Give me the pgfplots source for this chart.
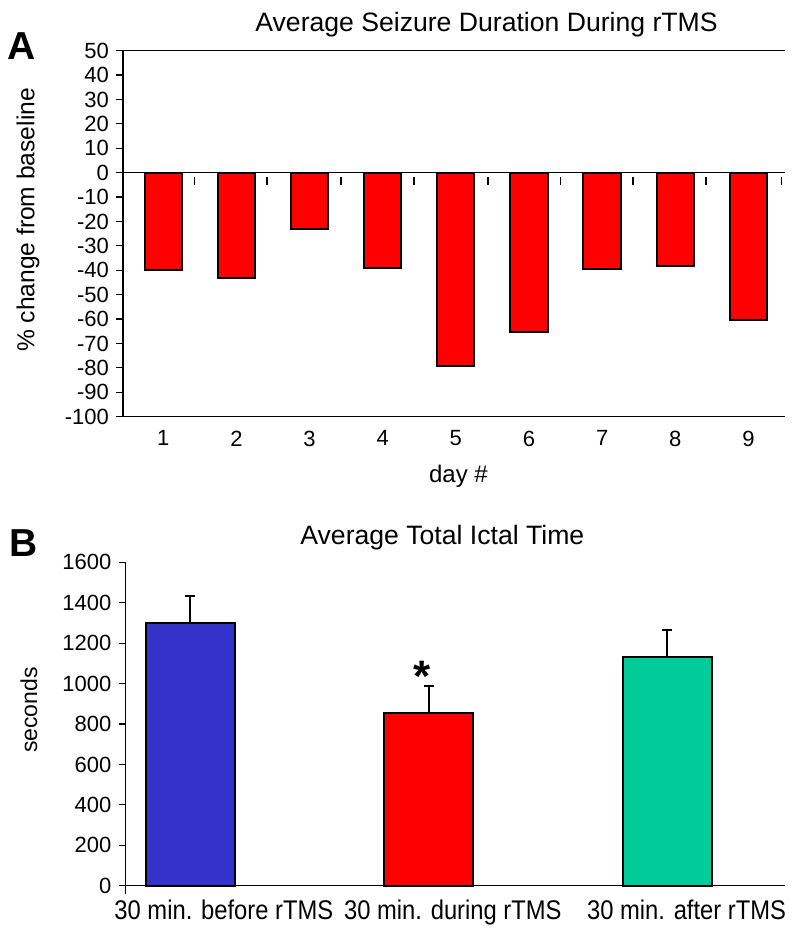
\documentclass[border=0pt]{standalone}
\usepackage{fontspec}
\setmainfont{Liberation Sans}
\newfontfamily\narrowfont[FakeStretch=0.88]{Liberation Sans}
\usepackage{pgfplots}
\pgfplotsset{compat=1.18}
\definecolor{barred}{RGB}{255,0,0}
\definecolor{barblue}{RGB}{51,51,204}
\definecolor{bargreen}{RGB}{0,204,153}
\begin{document}
\begin{tikzpicture}
\path[use as bounding box] (0,0) rectangle (400pt,-470pt);

% Panel A
\begin{axis}[
 at={(61.5pt,-208.35pt)}, anchor=south west,
 scale only axis, width=331pt, height=183pt,
 xmin=0.45, xmax=9.5, ymin=-100, ymax=50,
 axis y line*=left, axis x line*=bottom,
 ytick={-100,-90,...,50},
 xtick={1,...,9},
 tick align=outside,
 major tick length=3.5pt,
 every major x tick/.append style={draw=none},
 every tick/.append style={black, line width=0.6pt},
 axis line style={line width=0.7pt},
 tick label style={font=\fontsize{11}{12}\selectfont},
 /pgf/number format/assume math mode=true,
 clip=false,
]
\addplot[ybar, bar width=0.51, bar shift=0pt, fill=barred, draw=black, line width=1pt]
 coordinates {(1,-40) (2,-43.3) (3,-23.2) (4,-39.2) (5,-79.2) (6,-65.3) (7,-39.3) (8,-38.2) (9,-60.2)};
\draw[line width=0.7pt] (rel axis cs:0,1) -- (rel axis cs:1,1);
\draw[line width=0.7pt] (axis cs:0.45,0) -- (axis cs:9.5,0);
\pgfplotsinvokeforeach{1.43,2.42,3.43,4.43,5.44,6.43,7.42,8.42,9.45}{
 \draw[line width=0.7pt] ([yshift=-2.2pt]axis cs:#1,0) -- ++(0pt,-4pt);
}
\end{axis}

% Panel B
\begin{axis}[
 at={(62.75pt,-442.85pt)}, anchor=south west,
 scale only axis, width=329.75pt, height=161.7pt,
 xmin=-0.2725, xmax=2.493, ymin=0, ymax=1600,
 axis y line*=left, axis x line*=bottom,
 ytick={0,200,...,1600},
 xtick={0.14,1.1,2.08},
 xticklabels={30 min. before rTMS,30 min. during rTMS,30 min. after rTMS},
 xticklabel style={font=\narrowfont\fontsize{13.5}{14}\selectfont},
 yticklabel style={font=\fontsize{11}{12}\selectfont},
 tick align=outside,
 major tick length=3.5pt,
 every major x tick/.append style={draw=none},
 every tick/.append style={black, line width=0.6pt},
 axis line style={line width=0.7pt},
 /pgf/number format/assume math mode=true,
 /pgf/number format/1000 sep={},
 scaled y ticks=false,
 clip=false,
]
\addplot[ybar, bar width=0.373, bar shift=0pt, fill=barblue, draw=black, line width=1pt,
 error bars/.cd, y dir=plus, y explicit,
 error bar style={line width=1pt, black},
 error mark options={rotate=90, mark size=2.5pt, line width=1pt, black}]
 coordinates {(0,1300) +- (0,133)};
\addplot[ybar, bar width=0.373, bar shift=0pt, fill=barred, draw=black, line width=1pt,
 error bars/.cd, y dir=plus, y explicit,
 error bar style={line width=1pt, black},
 error mark options={rotate=90, mark size=2.5pt, line width=1pt, black}]
 coordinates {(1,853) +- (0,135)};
\addplot[ybar, bar width=0.373, bar shift=0pt, fill=bargreen, draw=black, line width=1pt,
 error bars/.cd, y dir=plus, y explicit,
 error bar style={line width=1pt, black},
 error mark options={rotate=90, mark size=2.5pt, line width=1pt, black}]
 coordinates {(2,1133) +- (0,131)};
\node[font=\bfseries\fontsize{22}{24}\selectfont] at (axis cs:0.97,1035) {*};
\draw[line width=0.7pt] (rel axis cs:0,0) -- ++(0pt,-4pt);
\end{axis}

% Texts
\node[font=\bfseries\fontsize{19.5}{20}\selectfont] at (11pt,-23pt) {A};
\node[font=\bfseries\fontsize{19.5}{20}\selectfont] at (11.75pt,-271.5pt) {B};
\node[font=\fontsize{13.3}{14}\selectfont, anchor=base west, inner sep=0pt] at (127.5pt,-16pt) {Average Seizure Duration During rTMS};
\node[font=\fontsize{13.3}{14}\selectfont, anchor=base west, inner sep=0pt] at (150pt,-272pt) {Average Total Ictal Time};
\node[font=\fontsize{12.3}{13}\selectfont, rotate=90] at (14pt,-110pt) {\% change from baseline};
\node[font=\fontsize{12}{13}\selectfont, anchor=base] at (229.25pt,-241pt) {day \#};
\node[font=\fontsize{11.5}{12}\selectfont, rotate=90] at (14.5pt,-355pt) {seconds};
\end{tikzpicture}
\end{document}
